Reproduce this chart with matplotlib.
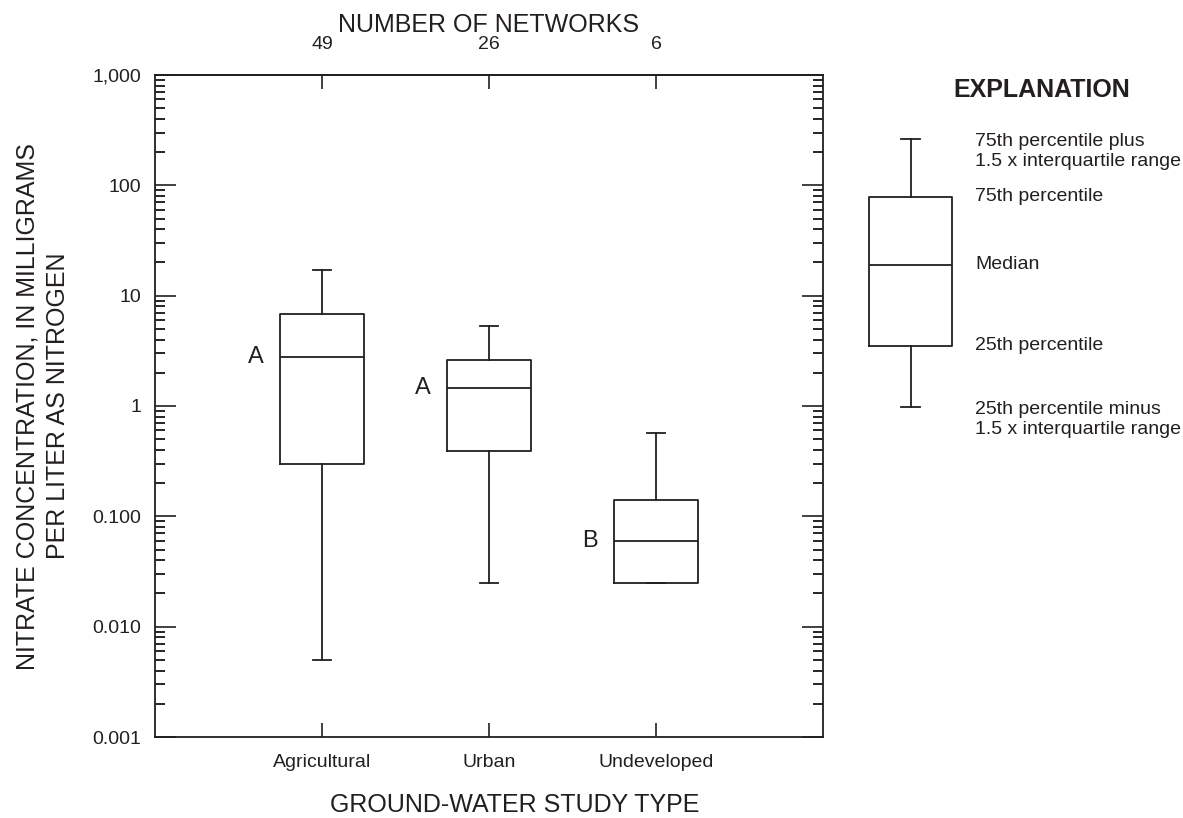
import matplotlib
matplotlib.use("Agg")
import matplotlib.pyplot as plt
from matplotlib.ticker import LogLocator, NullFormatter

plt.rcParams["font.family"] = ["Liberation Sans", "DejaVu Sans"]

INK = "#231f20"

# Nitrate concentration summaries (mg/L as N) by study type
study_types = ["Agricultural", "Urban", "Undeveloped"]
network_counts = ["49", "26", "6"]
whisker_high = [17.0, 5.3, 0.57]
q3 = [6.8, 2.6, 0.14]
medians = [2.78, 1.46, 0.060]
q1 = [0.30, 0.39, 0.025]
whisker_low = [0.005, 0.025, 0.025]
group_letters = ["A", "A", "B"]

y_ticks = [0.001, 0.01, 0.1, 1, 10, 100, 1000]
y_tick_labels = ["0.001", "0.010", "0.100", "1", "10", "100", "1,000"]

# Explanation box (illustrative values)
key_stats = {"whishi": 263, "q3": 78.5, "med": 19, "q1": 3.5, "whislo": 0.98}
key_labels = {
    "whishi": "75th percentile plus\n1.5 x interquartile range",
    "q3": "75th percentile",
    "med": "Median",
    "q1": "25th percentile",
    "whislo": "25th percentile minus\n1.5 x interquartile range",
}

W, H = 1183, 818
fig = plt.figure(figsize=(W / 100, H / 100), dpi=100)
ax = fig.add_axes([155 / W, 81 / H, 668 / W, 662 / H])

line_kw = dict(color=INK, linewidth=1.3)
positions = [1, 2, 3]
stats = [
    {"whishi": wh, "q3": a, "med": m, "q1": b, "whislo": wl, "fliers": []}
    for wh, a, m, b, wl in zip(whisker_high, q3, medians, q1, whisker_low)
]
ax.bxp(stats, positions=positions, widths=0.5, capwidths=0.11,
       boxprops=line_kw, whiskerprops=line_kw, capprops=line_kw,
       medianprops=line_kw, showfliers=False, manage_ticks=False)

for pos, letter, med in zip(positions, group_letters, medians):
    ax.text(pos - 0.25 - 0.1, med, letter, ha="right", va="center",
            fontsize=17, color=INK)

ax.set_yscale("log")
ax.set_ylim(0.001, 1000)
ax.set_xlim(0, 4)
ax.set_yticks(y_ticks, labels=y_tick_labels)
ax.yaxis.set_minor_locator(LogLocator(base=10, subs=range(2, 10)))
ax.yaxis.set_minor_formatter(NullFormatter())
ax.tick_params(axis="y", which="major", direction="in", length=15, width=1.2,
               left=True, right=True, labelsize=14, pad=10, colors=INK)
ax.tick_params(axis="y", which="minor", direction="in", length=7.5, width=1.2,
               left=True, right=True)

ax.set_xticks(positions, labels=study_types)
ax.tick_params(axis="x", direction="in", length=10, width=1.2, labelsize=14,
               pad=12, colors=INK)
ax.set_xlabel("GROUND-WATER STUDY TYPE", fontsize=18, color=INK)
ax.xaxis.set_label_coords(0.539, -0.085)
ax.set_ylabel("NITRATE CONCENTRATION, IN MILLIGRAMS\nPER LITER AS NITROGEN",
              fontsize=18, color=INK, labelpad=16, linespacing=1.35)

top = ax.secondary_xaxis("top")
top.set_xticks(positions, labels=network_counts)
top.tick_params(direction="in", length=10, width=1.2, labelsize=14, pad=16,
                colors=INK)
top.set_xlabel("NUMBER OF NETWORKS", fontsize=18, color=INK, labelpad=3)

for spine in list(ax.spines.values()) + list(top.spines.values()):
    spine.set_color(INK)
    spine.set_linewidth(1.3)

# ── Explanation key ─────────────────────────────────────────────────────────
key = fig.add_axes([827 / W, 81 / H, 334 / W, 662 / H])
key.set_yscale("log")
key.set_ylim(0.001, 1000)
key.set_xlim(0, 2)
key.bxp([dict(key_stats, fliers=[])], positions=[0.5], widths=0.5,
        capwidths=0.11, boxprops=line_kw, whiskerprops=line_kw,
        capprops=line_kw, medianprops=line_kw, showfliers=False,
        manage_ticks=False)
key.axis("off")

for name, text in key_labels.items():
    two_line = "\n" in text
    key.annotate(text, (0.886, key_stats[name]),
                 xytext=(0, -9 if two_line else 0), textcoords="offset points",
                 ha="left", va="center", fontsize=14, color=INK,
                 linespacing=1.2)

fig.text(1042 / W, 1 - 90 / H, "EXPLANATION", ha="center", va="center",
         fontsize=18, fontweight="bold", color=INK)

fig.savefig("out.png", dpi=100, facecolor="white")
